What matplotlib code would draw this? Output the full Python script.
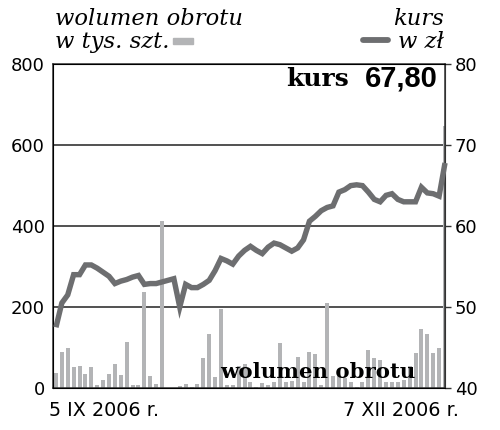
import numpy as np
import matplotlib
matplotlib.use("Agg")
import matplotlib.pyplot as plt

# wolumen obrotu (tys. szt.) - one bar per session, 5 IX - 7 XII 2006
volume = [37, 90, 100, 51, 55, 34, 51, 7, 19, 34,
          60, 32, 113, 7, 7, 237, 29, 11, 413, 1,
          1, 6, 11, 2, 11, 75, 134, 28, 194, 7,
          7, 55, 60, 16, 2, 12, 7, 16, 112, 16,
          18, 77, 16, 89, 83, 7, 210, 30, 30, 25,
          16, 3, 16, 94, 74, 69, 16, 16, 16, 20,
          55, 86, 145, 133, 87, 100, 647]

# kurs (zl)
price = [47.5, 50.5, 51.5, 54.0, 54.0, 55.2, 55.2, 54.8, 54.3, 53.8,
         52.9, 53.2, 53.4, 53.7, 53.9, 52.8, 52.9, 52.9, 53.1, 53.3,
         53.5, 50.0, 52.8, 52.4, 52.4, 52.8, 53.3, 54.5, 56.0, 55.7,
         55.3, 56.3, 57.0, 57.5, 57.0, 56.6, 57.4, 57.9, 57.7, 57.3,
         56.9, 57.3, 58.3, 60.6, 61.2, 61.9, 62.3, 62.5, 64.2, 64.5,
         65.0, 65.1, 65.0, 64.2, 63.3, 63.0, 63.8, 64.0, 63.3, 63.0,
         63.0, 63.0, 64.8, 64.1, 64.0, 63.7, 67.8]

vol_ticks = [0, 200, 400, 600, 800]
price_ticks = [40, 50, 60, 70, 80]
first_day = "5 IX 2006 r."
last_day = "7 XII 2006 r."
last_price = "67,80"

bar_col = "#b3b4b6"
line_col = "#6d6e70"
tick_font = "DejaVu Sans"
head_font = "DejaVu Serif"

fig = plt.figure(figsize=(5, 4.3), dpi=100)
ax = fig.add_axes([0.106, 0.0977, 0.784, 0.753])
x = np.arange(len(volume))

ax.bar(x, volume, width=0.68, color=bar_col, zorder=2)
ax.set_xlim(-0.5, len(volume) - 1)
ax.set_ylim(0, 800)
ax.set_yticks(vol_ticks)
ax.set_xticks([])
for v in vol_ticks[1:-1]:
    ax.axhline(v, color="#222222", lw=1.1, zorder=1)
ax.tick_params(axis="y", length=0, pad=6, labelsize=13)
for lab in ax.get_yticklabels():
    lab.set_family(tick_font)
for s in ax.spines.values():
    s.set_color("#333333")
    s.set_linewidth(1.1)

ax2 = ax.twinx()
ax2.plot(x, price, color=line_col, lw=3.9, solid_capstyle="butt",
         solid_joinstyle="miter", clip_on=False, zorder=3)
ax2.set_ylim(40, 80)
ax2.set_yticks(price_ticks)
ax2.tick_params(axis="y", length=4, width=1, color="#333333", pad=3, labelsize=13)
for lab in ax2.get_yticklabels():
    lab.set_family(tick_font)
ax2.spines["right"].set_color("#333333")

# headers
fig.text(0.11, 0.955, "wolumen obrotu", family=head_font, style="italic",
         fontsize=16.3, va="center", ha="left")
fig.text(0.11, 0.903, "w tys. szt.", family=head_font, style="italic",
         fontsize=16.3, va="center", ha="left")
fig.patches.append(plt.Rectangle((0.345, 0.897), 0.04, 0.014, color=bar_col,
                                 transform=fig.transFigure, figure=fig))
fig.text(0.887, 0.955, "kurs", family=head_font, style="italic",
         fontsize=16.3, va="center", ha="right")
fig.text(0.887, 0.903, "w zł", family=head_font, style="italic",
         fontsize=16.3, va="center", ha="right")
fig.add_artist(plt.Line2D([0.726, 0.776], [0.908, 0.908], color=line_col,
                          lw=4.2, solid_capstyle="round"))

ax.text(0.594, 0.955, "kurs", transform=ax.transAxes, family=head_font,
        weight="bold", fontsize=18, ha="left", va="center")
ax.text(0.982, 0.955, last_price, transform=ax.transAxes, family="Liberation Sans",
        weight="bold", fontsize=21, ha="right", va="center")
ax.text(0.676, 0.05, "wolumen obrotu", transform=ax.transAxes, family=head_font,
        weight="bold", fontsize=15.3, ha="center", va="center", zorder=5)

# dates
fig.text(0.098, 0.045, first_day, family=tick_font, fontsize=13.8, ha="left", va="center")
fig.text(0.918, 0.045, last_day, family=tick_font, fontsize=13.8, ha="right", va="center")

fig.savefig("out.png", dpi=100)
